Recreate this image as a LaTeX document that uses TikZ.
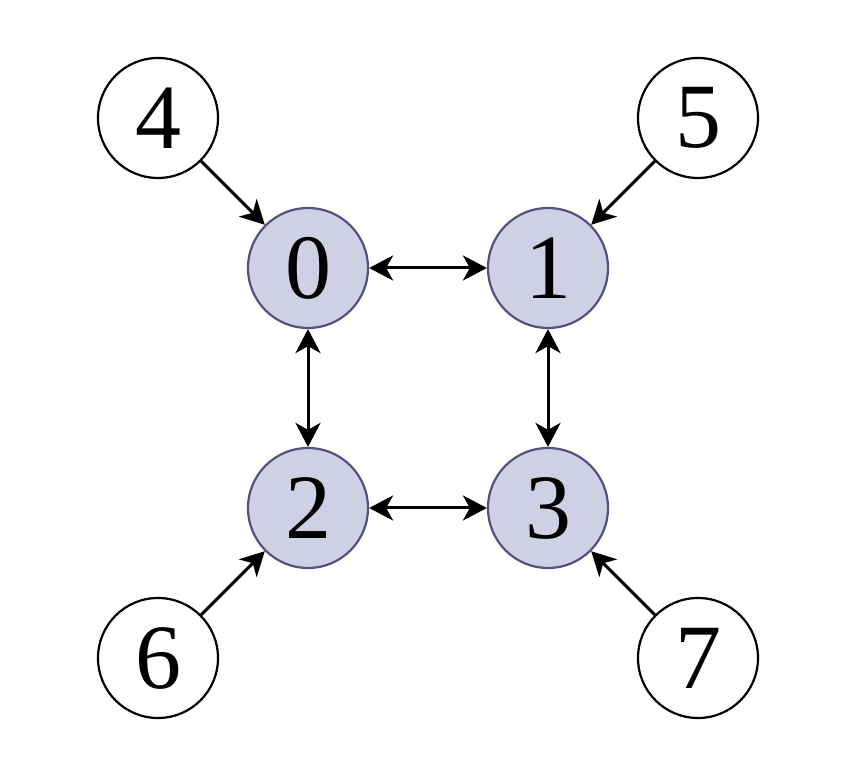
\documentclass[tikz,border=0pt]{standalone}
\usepackage{fontspec}
\setmainfont{Liberation Serif}
\usetikzlibrary{arrows.meta}
\definecolor{inner}{HTML}{D0D0E4}
\definecolor{innerline}{HTML}{55507F}
\begin{document}
\begin{tikzpicture}[x=0.5pt,y=-0.5pt,
  vtx/.style={circle,draw,line width=1.1pt,minimum size=60pt,inner sep=0pt,font=\fontsize{46}{50}\selectfont},
  core/.style={vtx,fill=inner,draw=innerline},
  outer/.style={vtx,fill=white,draw=black},
  link/.style={line width=1.5pt,-{Stealth[length=12pt,width=12.5pt,inset=3.5pt]}},
  blink/.style={line width=1.5pt,{Stealth[length=12pt,width=12.5pt,inset=3.5pt]}-{Stealth[length=12pt,width=12.5pt,inset=3.5pt]}}]
\useasboundingbox (0,0) rectangle (868,769);
\node[core] (n0) at (308,268) {0};
\node[core] (n1) at (548,268) {1};
\node[core] (n2) at (308,508) {2};
\node[core] (n3) at (548,508) {3};
\node[outer] (n4) at (158,118) {4};
\node[outer] (n5) at (698,118) {5};
\node[outer] (n6) at (158,658) {6};
\node[outer] (n7) at (698,658) {7};
\draw[blink] (n0) -- (n1);
\draw[blink] (n0) -- (n2);
\draw[blink] (n1) -- (n3);
\draw[blink] (n2) -- (n3);
\draw[link] (n4) -- (n0);
\draw[link] (n5) -- (n1);
\draw[link] (n6) -- (n2);
\draw[link] (n7) -- (n3);
\end{tikzpicture}
\end{document}
